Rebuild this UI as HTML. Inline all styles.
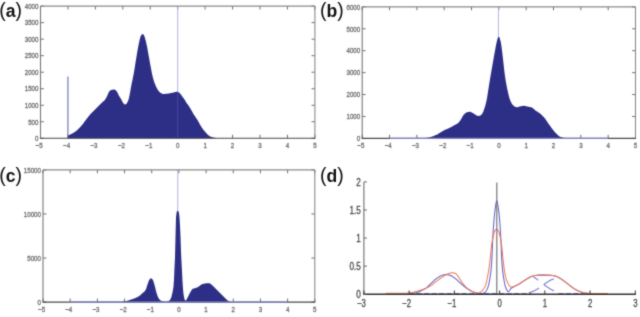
<!DOCTYPE html>
<html><head><meta charset="utf-8"><style>html,body{margin:0;padding:0;background:#fff;width:640px;height:317px;overflow:hidden}svg{display:block}#w{will-change:transform}</style></head>
<body><div id="w">
<svg width="640" height="317" viewBox="0 0 640 317">
<style>.t{font-family:"Liberation Sans",sans-serif;fill:#7a7a7a;stroke:#7a7a7a;stroke-width:0.4}.p{font-family:"Liberation Sans",sans-serif;font-weight:bold;fill:#111}</style>
<filter id="soft" x="0" y="0" width="640" height="317" filterUnits="userSpaceOnUse" color-interpolation-filters="sRGB"><feConvolveMatrix order="3" kernelMatrix="0.025 0.1 0.025 0.1 0.5 0.1 0.025 0.1 0.025" edgeMode="duplicate"/></filter>
<g filter="url(#soft)">
<rect width="640" height="317" fill="#fff"/>
<line x1="40.5" y1="138.3" x2="40.5" y2="134.70000000000002" stroke="#707070" stroke-width="1"/>
<line x1="40.5" y1="6.1" x2="40.5" y2="9.5" stroke="#707070" stroke-width="1"/>
<line x1="67.94" y1="138.3" x2="67.94" y2="134.70000000000002" stroke="#707070" stroke-width="1"/>
<line x1="67.94" y1="6.1" x2="67.94" y2="9.5" stroke="#707070" stroke-width="1"/>
<line x1="95.38" y1="138.3" x2="95.38" y2="134.70000000000002" stroke="#707070" stroke-width="1"/>
<line x1="95.38" y1="6.1" x2="95.38" y2="9.5" stroke="#707070" stroke-width="1"/>
<line x1="122.82" y1="138.3" x2="122.82" y2="134.70000000000002" stroke="#707070" stroke-width="1"/>
<line x1="122.82" y1="6.1" x2="122.82" y2="9.5" stroke="#707070" stroke-width="1"/>
<line x1="150.26" y1="138.3" x2="150.26" y2="134.70000000000002" stroke="#707070" stroke-width="1"/>
<line x1="150.26" y1="6.1" x2="150.26" y2="9.5" stroke="#707070" stroke-width="1"/>
<line x1="177.7" y1="138.3" x2="177.7" y2="134.70000000000002" stroke="#707070" stroke-width="1"/>
<line x1="177.7" y1="6.1" x2="177.7" y2="9.5" stroke="#707070" stroke-width="1"/>
<line x1="205.14" y1="138.3" x2="205.14" y2="134.70000000000002" stroke="#707070" stroke-width="1"/>
<line x1="205.14" y1="6.1" x2="205.14" y2="9.5" stroke="#707070" stroke-width="1"/>
<line x1="232.57999999999998" y1="138.3" x2="232.57999999999998" y2="134.70000000000002" stroke="#707070" stroke-width="1"/>
<line x1="232.57999999999998" y1="6.1" x2="232.57999999999998" y2="9.5" stroke="#707070" stroke-width="1"/>
<line x1="260.02" y1="138.3" x2="260.02" y2="134.70000000000002" stroke="#707070" stroke-width="1"/>
<line x1="260.02" y1="6.1" x2="260.02" y2="9.5" stroke="#707070" stroke-width="1"/>
<line x1="287.46" y1="138.3" x2="287.46" y2="134.70000000000002" stroke="#707070" stroke-width="1"/>
<line x1="287.46" y1="6.1" x2="287.46" y2="9.5" stroke="#707070" stroke-width="1"/>
<line x1="314.9" y1="138.3" x2="314.9" y2="134.70000000000002" stroke="#707070" stroke-width="1"/>
<line x1="314.9" y1="6.1" x2="314.9" y2="9.5" stroke="#707070" stroke-width="1"/>
<line x1="40.5" y1="138.3" x2="43.9" y2="138.3" stroke="#707070" stroke-width="1"/>
<line x1="314.9" y1="138.3" x2="311.5" y2="138.3" stroke="#707070" stroke-width="1"/>
<line x1="40.5" y1="121.775" x2="43.9" y2="121.775" stroke="#707070" stroke-width="1"/>
<line x1="314.9" y1="121.775" x2="311.5" y2="121.775" stroke="#707070" stroke-width="1"/>
<line x1="40.5" y1="105.25" x2="43.9" y2="105.25" stroke="#707070" stroke-width="1"/>
<line x1="314.9" y1="105.25" x2="311.5" y2="105.25" stroke="#707070" stroke-width="1"/>
<line x1="40.5" y1="88.72500000000001" x2="43.9" y2="88.72500000000001" stroke="#707070" stroke-width="1"/>
<line x1="314.9" y1="88.72500000000001" x2="311.5" y2="88.72500000000001" stroke="#707070" stroke-width="1"/>
<line x1="40.5" y1="72.2" x2="43.9" y2="72.2" stroke="#707070" stroke-width="1"/>
<line x1="314.9" y1="72.2" x2="311.5" y2="72.2" stroke="#707070" stroke-width="1"/>
<line x1="40.5" y1="55.675" x2="43.9" y2="55.675" stroke="#707070" stroke-width="1"/>
<line x1="314.9" y1="55.675" x2="311.5" y2="55.675" stroke="#707070" stroke-width="1"/>
<line x1="40.5" y1="39.150000000000006" x2="43.9" y2="39.150000000000006" stroke="#707070" stroke-width="1"/>
<line x1="314.9" y1="39.150000000000006" x2="311.5" y2="39.150000000000006" stroke="#707070" stroke-width="1"/>
<line x1="40.5" y1="22.625" x2="43.9" y2="22.625" stroke="#707070" stroke-width="1"/>
<line x1="314.9" y1="22.625" x2="311.5" y2="22.625" stroke="#707070" stroke-width="1"/>
<line x1="40.5" y1="6.099999999999994" x2="43.9" y2="6.099999999999994" stroke="#707070" stroke-width="1"/>
<line x1="314.9" y1="6.099999999999994" x2="311.5" y2="6.099999999999994" stroke="#707070" stroke-width="1"/>
<text transform="translate(39.10 147.7) scale(0.81 1)" text-anchor="middle" class="t" font-size="7.6">−5</text>
<text transform="translate(66.54 147.7) scale(0.81 1)" text-anchor="middle" class="t" font-size="7.6">−4</text>
<text transform="translate(93.98 147.7) scale(0.81 1)" text-anchor="middle" class="t" font-size="7.6">−3</text>
<text transform="translate(121.42 147.7) scale(0.81 1)" text-anchor="middle" class="t" font-size="7.6">−2</text>
<text transform="translate(148.86 147.7) scale(0.81 1)" text-anchor="middle" class="t" font-size="7.6">−1</text>
<text transform="translate(177.70 147.7) scale(0.81 1)" text-anchor="middle" class="t" font-size="7.6">0</text>
<text transform="translate(205.14 147.7) scale(0.81 1)" text-anchor="middle" class="t" font-size="7.6">1</text>
<text transform="translate(232.58 147.7) scale(0.81 1)" text-anchor="middle" class="t" font-size="7.6">2</text>
<text transform="translate(260.02 147.7) scale(0.81 1)" text-anchor="middle" class="t" font-size="7.6">3</text>
<text transform="translate(287.46 147.7) scale(0.81 1)" text-anchor="middle" class="t" font-size="7.6">4</text>
<text transform="translate(314.90 147.7) scale(0.81 1)" text-anchor="middle" class="t" font-size="7.6">5</text>
<text transform="translate(38.4 141.036) scale(0.81 1)" text-anchor="end" class="t" font-size="7.6">0</text>
<text transform="translate(38.4 124.51100000000001) scale(0.81 1)" text-anchor="end" class="t" font-size="7.6">500</text>
<text transform="translate(38.4 107.986) scale(0.81 1)" text-anchor="end" class="t" font-size="7.6">1000</text>
<text transform="translate(38.4 91.46100000000001) scale(0.81 1)" text-anchor="end" class="t" font-size="7.6">1500</text>
<text transform="translate(38.4 74.936) scale(0.81 1)" text-anchor="end" class="t" font-size="7.6">2000</text>
<text transform="translate(38.4 58.410999999999994) scale(0.81 1)" text-anchor="end" class="t" font-size="7.6">2500</text>
<text transform="translate(38.4 41.886) scale(0.81 1)" text-anchor="end" class="t" font-size="7.6">3000</text>
<text transform="translate(38.4 25.361) scale(0.81 1)" text-anchor="end" class="t" font-size="7.6">3500</text>
<text transform="translate(38.4 8.835999999999995) scale(0.81 1)" text-anchor="end" class="t" font-size="7.6">4000</text>
<line x1="362.2" y1="138.4" x2="362.2" y2="134.8" stroke="#707070" stroke-width="1"/>
<line x1="362.2" y1="6.85" x2="362.2" y2="10.25" stroke="#707070" stroke-width="1"/>
<line x1="389.53" y1="138.4" x2="389.53" y2="134.8" stroke="#707070" stroke-width="1"/>
<line x1="389.53" y1="6.85" x2="389.53" y2="10.25" stroke="#707070" stroke-width="1"/>
<line x1="416.86" y1="138.4" x2="416.86" y2="134.8" stroke="#707070" stroke-width="1"/>
<line x1="416.86" y1="6.85" x2="416.86" y2="10.25" stroke="#707070" stroke-width="1"/>
<line x1="444.19" y1="138.4" x2="444.19" y2="134.8" stroke="#707070" stroke-width="1"/>
<line x1="444.19" y1="6.85" x2="444.19" y2="10.25" stroke="#707070" stroke-width="1"/>
<line x1="471.52" y1="138.4" x2="471.52" y2="134.8" stroke="#707070" stroke-width="1"/>
<line x1="471.52" y1="6.85" x2="471.52" y2="10.25" stroke="#707070" stroke-width="1"/>
<line x1="498.85" y1="138.4" x2="498.85" y2="134.8" stroke="#707070" stroke-width="1"/>
<line x1="498.85" y1="6.85" x2="498.85" y2="10.25" stroke="#707070" stroke-width="1"/>
<line x1="526.1800000000001" y1="138.4" x2="526.1800000000001" y2="134.8" stroke="#707070" stroke-width="1"/>
<line x1="526.1800000000001" y1="6.85" x2="526.1800000000001" y2="10.25" stroke="#707070" stroke-width="1"/>
<line x1="553.51" y1="138.4" x2="553.51" y2="134.8" stroke="#707070" stroke-width="1"/>
<line x1="553.51" y1="6.85" x2="553.51" y2="10.25" stroke="#707070" stroke-width="1"/>
<line x1="580.84" y1="138.4" x2="580.84" y2="134.8" stroke="#707070" stroke-width="1"/>
<line x1="580.84" y1="6.85" x2="580.84" y2="10.25" stroke="#707070" stroke-width="1"/>
<line x1="608.1700000000001" y1="138.4" x2="608.1700000000001" y2="134.8" stroke="#707070" stroke-width="1"/>
<line x1="608.1700000000001" y1="6.85" x2="608.1700000000001" y2="10.25" stroke="#707070" stroke-width="1"/>
<line x1="635.5" y1="138.4" x2="635.5" y2="134.8" stroke="#707070" stroke-width="1"/>
<line x1="635.5" y1="6.85" x2="635.5" y2="10.25" stroke="#707070" stroke-width="1"/>
<line x1="362.2" y1="138.4" x2="365.59999999999997" y2="138.4" stroke="#707070" stroke-width="1"/>
<line x1="635.5" y1="138.4" x2="632.1" y2="138.4" stroke="#707070" stroke-width="1"/>
<line x1="362.2" y1="116.47500000000001" x2="365.59999999999997" y2="116.47500000000001" stroke="#707070" stroke-width="1"/>
<line x1="635.5" y1="116.47500000000001" x2="632.1" y2="116.47500000000001" stroke="#707070" stroke-width="1"/>
<line x1="362.2" y1="94.55000000000001" x2="365.59999999999997" y2="94.55000000000001" stroke="#707070" stroke-width="1"/>
<line x1="635.5" y1="94.55000000000001" x2="632.1" y2="94.55000000000001" stroke="#707070" stroke-width="1"/>
<line x1="362.2" y1="72.625" x2="365.59999999999997" y2="72.625" stroke="#707070" stroke-width="1"/>
<line x1="635.5" y1="72.625" x2="632.1" y2="72.625" stroke="#707070" stroke-width="1"/>
<line x1="362.2" y1="50.7" x2="365.59999999999997" y2="50.7" stroke="#707070" stroke-width="1"/>
<line x1="635.5" y1="50.7" x2="632.1" y2="50.7" stroke="#707070" stroke-width="1"/>
<line x1="362.2" y1="28.775000000000006" x2="365.59999999999997" y2="28.775000000000006" stroke="#707070" stroke-width="1"/>
<line x1="635.5" y1="28.775000000000006" x2="632.1" y2="28.775000000000006" stroke="#707070" stroke-width="1"/>
<line x1="362.2" y1="6.849999999999994" x2="365.59999999999997" y2="6.849999999999994" stroke="#707070" stroke-width="1"/>
<line x1="635.5" y1="6.849999999999994" x2="632.1" y2="6.849999999999994" stroke="#707070" stroke-width="1"/>
<text transform="translate(360.80 147.7) scale(0.81 1)" text-anchor="middle" class="t" font-size="7.6">−5</text>
<text transform="translate(388.13 147.7) scale(0.81 1)" text-anchor="middle" class="t" font-size="7.6">−4</text>
<text transform="translate(415.46 147.7) scale(0.81 1)" text-anchor="middle" class="t" font-size="7.6">−3</text>
<text transform="translate(442.79 147.7) scale(0.81 1)" text-anchor="middle" class="t" font-size="7.6">−2</text>
<text transform="translate(470.12 147.7) scale(0.81 1)" text-anchor="middle" class="t" font-size="7.6">−1</text>
<text transform="translate(498.85 147.7) scale(0.81 1)" text-anchor="middle" class="t" font-size="7.6">0</text>
<text transform="translate(526.18 147.7) scale(0.81 1)" text-anchor="middle" class="t" font-size="7.6">1</text>
<text transform="translate(553.51 147.7) scale(0.81 1)" text-anchor="middle" class="t" font-size="7.6">2</text>
<text transform="translate(580.84 147.7) scale(0.81 1)" text-anchor="middle" class="t" font-size="7.6">3</text>
<text transform="translate(608.17 147.7) scale(0.81 1)" text-anchor="middle" class="t" font-size="7.6">4</text>
<text transform="translate(635.50 147.7) scale(0.81 1)" text-anchor="middle" class="t" font-size="7.6">5</text>
<text transform="translate(360.2 141.136) scale(0.81 1)" text-anchor="end" class="t" font-size="7.6">0</text>
<text transform="translate(360.2 119.21100000000001) scale(0.81 1)" text-anchor="end" class="t" font-size="7.6">1000</text>
<text transform="translate(360.2 97.28600000000002) scale(0.81 1)" text-anchor="end" class="t" font-size="7.6">2000</text>
<text transform="translate(360.2 75.361) scale(0.81 1)" text-anchor="end" class="t" font-size="7.6">3000</text>
<text transform="translate(360.2 53.436) scale(0.81 1)" text-anchor="end" class="t" font-size="7.6">4000</text>
<text transform="translate(360.2 31.511000000000006) scale(0.81 1)" text-anchor="end" class="t" font-size="7.6">5000</text>
<text transform="translate(360.2 9.585999999999995) scale(0.81 1)" text-anchor="end" class="t" font-size="7.6">6000</text>
<line x1="43.0" y1="302.1" x2="43.0" y2="298.5" stroke="#707070" stroke-width="1"/>
<line x1="43.0" y1="169.9" x2="43.0" y2="173.3" stroke="#707070" stroke-width="1"/>
<line x1="70.18" y1="302.1" x2="70.18" y2="298.5" stroke="#707070" stroke-width="1"/>
<line x1="70.18" y1="169.9" x2="70.18" y2="173.3" stroke="#707070" stroke-width="1"/>
<line x1="97.36" y1="302.1" x2="97.36" y2="298.5" stroke="#707070" stroke-width="1"/>
<line x1="97.36" y1="169.9" x2="97.36" y2="173.3" stroke="#707070" stroke-width="1"/>
<line x1="124.53999999999999" y1="302.1" x2="124.53999999999999" y2="298.5" stroke="#707070" stroke-width="1"/>
<line x1="124.53999999999999" y1="169.9" x2="124.53999999999999" y2="173.3" stroke="#707070" stroke-width="1"/>
<line x1="151.72" y1="302.1" x2="151.72" y2="298.5" stroke="#707070" stroke-width="1"/>
<line x1="151.72" y1="169.9" x2="151.72" y2="173.3" stroke="#707070" stroke-width="1"/>
<line x1="178.9" y1="302.1" x2="178.9" y2="298.5" stroke="#707070" stroke-width="1"/>
<line x1="178.9" y1="169.9" x2="178.9" y2="173.3" stroke="#707070" stroke-width="1"/>
<line x1="206.07999999999998" y1="302.1" x2="206.07999999999998" y2="298.5" stroke="#707070" stroke-width="1"/>
<line x1="206.07999999999998" y1="169.9" x2="206.07999999999998" y2="173.3" stroke="#707070" stroke-width="1"/>
<line x1="233.26" y1="302.1" x2="233.26" y2="298.5" stroke="#707070" stroke-width="1"/>
<line x1="233.26" y1="169.9" x2="233.26" y2="173.3" stroke="#707070" stroke-width="1"/>
<line x1="260.44" y1="302.1" x2="260.44" y2="298.5" stroke="#707070" stroke-width="1"/>
<line x1="260.44" y1="169.9" x2="260.44" y2="173.3" stroke="#707070" stroke-width="1"/>
<line x1="287.62" y1="302.1" x2="287.62" y2="298.5" stroke="#707070" stroke-width="1"/>
<line x1="287.62" y1="169.9" x2="287.62" y2="173.3" stroke="#707070" stroke-width="1"/>
<line x1="314.8" y1="302.1" x2="314.8" y2="298.5" stroke="#707070" stroke-width="1"/>
<line x1="314.8" y1="169.9" x2="314.8" y2="173.3" stroke="#707070" stroke-width="1"/>
<line x1="43.0" y1="302.1" x2="46.4" y2="302.1" stroke="#707070" stroke-width="1"/>
<line x1="314.8" y1="302.1" x2="311.40000000000003" y2="302.1" stroke="#707070" stroke-width="1"/>
<line x1="43.0" y1="258.03333333333336" x2="46.4" y2="258.03333333333336" stroke="#707070" stroke-width="1"/>
<line x1="314.8" y1="258.03333333333336" x2="311.40000000000003" y2="258.03333333333336" stroke="#707070" stroke-width="1"/>
<line x1="43.0" y1="213.9666666666667" x2="46.4" y2="213.9666666666667" stroke="#707070" stroke-width="1"/>
<line x1="314.8" y1="213.9666666666667" x2="311.40000000000003" y2="213.9666666666667" stroke="#707070" stroke-width="1"/>
<line x1="43.0" y1="169.9" x2="46.4" y2="169.9" stroke="#707070" stroke-width="1"/>
<line x1="314.8" y1="169.9" x2="311.40000000000003" y2="169.9" stroke="#707070" stroke-width="1"/>
<text transform="translate(41.60 311.5) scale(0.81 1)" text-anchor="middle" class="t" font-size="7.6">−5</text>
<text transform="translate(68.78 311.5) scale(0.81 1)" text-anchor="middle" class="t" font-size="7.6">−4</text>
<text transform="translate(95.96 311.5) scale(0.81 1)" text-anchor="middle" class="t" font-size="7.6">−3</text>
<text transform="translate(123.14 311.5) scale(0.81 1)" text-anchor="middle" class="t" font-size="7.6">−2</text>
<text transform="translate(150.32 311.5) scale(0.81 1)" text-anchor="middle" class="t" font-size="7.6">−1</text>
<text transform="translate(178.90 311.5) scale(0.81 1)" text-anchor="middle" class="t" font-size="7.6">0</text>
<text transform="translate(206.08 311.5) scale(0.81 1)" text-anchor="middle" class="t" font-size="7.6">1</text>
<text transform="translate(233.26 311.5) scale(0.81 1)" text-anchor="middle" class="t" font-size="7.6">2</text>
<text transform="translate(260.44 311.5) scale(0.81 1)" text-anchor="middle" class="t" font-size="7.6">3</text>
<text transform="translate(287.62 311.5) scale(0.81 1)" text-anchor="middle" class="t" font-size="7.6">4</text>
<text transform="translate(314.80 311.5) scale(0.81 1)" text-anchor="middle" class="t" font-size="7.6">5</text>
<text transform="translate(40.9 304.836) scale(0.81 1)" text-anchor="end" class="t" font-size="7.6">0</text>
<text transform="translate(40.9 260.76933333333335) scale(0.81 1)" text-anchor="end" class="t" font-size="7.6">5000</text>
<text transform="translate(40.9 216.7026666666667) scale(0.81 1)" text-anchor="end" class="t" font-size="7.6">10000</text>
<text transform="translate(40.9 172.636) scale(0.81 1)" text-anchor="end" class="t" font-size="7.6">15000</text>
<line x1="177.7" y1="6.1" x2="177.7" y2="138.3" stroke="#b4b4dc" stroke-width="1"/>
<path d="M67.8 138.3L67.8 135.8L68.3 135.58L68.8 135.35L69.3 135.11L69.8 134.86L70.3 134.6L70.8 134.34L71.3 134.07L71.8 133.79L72.3 133.5L72.8 133.21L73.3 132.91L73.8 132.59L74.3 132.27L74.8 131.93L75.3 131.57L75.8 131.2L76.3 130.81L76.8 130.4L77.3 129.98L77.8 129.53L78.3 129.07L78.8 128.59L79.3 128.1L79.8 127.58L80.3 127.03L80.8 126.45L81.3 125.86L81.8 125.26L82.3 124.64L82.8 124.02L83.3 123.39L83.8 122.74L84.3 122.06L84.8 121.37L85.3 120.68L85.8 120L86.3 119.32L86.8 118.67L87.3 118.03L87.8 117.38L88.3 116.74L88.8 116.11L89.3 115.5L89.8 114.9L90.3 114.32L90.8 113.77L91.3 113.25L91.8 112.74L92.3 112.25L92.8 111.76L93.3 111.28L93.8 110.79L94.3 110.3L94.8 109.8L95.3 109.3L95.8 108.8L96.3 108.3L96.8 107.8L97.3 107.3L97.8 106.8L98.3 106.3L98.8 105.8L99.3 105.3L99.8 104.81L100.3 104.31L100.8 103.81L101.3 103.31L101.8 102.8L102.3 102.31L102.8 101.84L103.3 101.39L103.8 100.93L104.3 100.44L104.8 99.91L105.3 99.3L105.8 98.6L106.3 97.69L106.8 96.65L107.3 95.58L107.8 94.38L108.3 93.18L108.8 92.24L109.3 91.47L109.8 90.83L110.3 90.4L110.8 90.13L111.3 89.91L111.8 89.76L112.3 89.69L112.8 89.65L113.3 89.62L113.8 89.6L114.3 89.6L114.8 89.71L115.3 89.95L115.8 90.26L116.3 90.68L116.8 91.39L117.3 92.25L117.8 93.17L118.3 94.28L118.8 95.41L119.3 96.37L119.8 97.14L120.3 97.84L120.8 98.6L121.3 99.53L121.8 100.57L122.3 101.59L122.8 102.44L123.3 103.06L123.8 103.65L124.3 104.16L124.8 104.5L125.3 104.59L125.8 104.36L126.3 103.91L126.8 103.37L127.3 102.58L127.8 101.53L128.3 100.27L128.8 98.65L129.3 96.44L129.8 94L130.3 91.26L130.8 88.29L131.3 85.55L131.8 83.05L132.3 80.67L132.8 78.29L133.3 75.84L133.8 73.2L134.3 70.29L134.8 67.17L135.3 63.95L135.8 60.75L136.3 57.69L136.8 54.77L137.3 51.87L137.8 49.03L138.3 46.32L138.8 43.8L139.3 41.49L139.8 39.27L140.3 37.36L140.8 36.02L141.3 34.95L141.8 34.4L142.3 34.27L142.8 34.21L143.3 34.36L143.8 35.04L144.3 36.01L144.8 37.46L145.3 39.22L145.8 41.1L146.3 43.18L146.8 45.56L147.3 48.12L147.8 50.75L148.3 53.4L148.8 56.18L149.3 59.05L149.8 61.91L150.3 64.67L150.8 67.34L151.3 70.06L151.8 72.69L152.3 75.11L152.8 77.2L153.3 79.01L153.8 80.66L154.3 82.18L154.8 83.56L155.3 84.83L155.8 85.99L156.3 87.09L156.8 88.12L157.3 89.05L157.8 89.89L158.3 90.6L158.8 91.22L159.3 91.78L159.8 92.27L160.3 92.67L160.8 92.99L161.3 93.3L161.8 93.58L162.3 93.81L162.8 93.96L163.3 94L163.8 93.98L164.3 93.94L164.8 93.89L165.3 93.84L165.8 93.79L166.3 93.75L166.8 93.7L167.3 93.65L167.8 93.6L168.3 93.54L168.8 93.47L169.3 93.38L169.8 93.27L170.3 93.15L170.8 93.03L171.3 92.92L171.8 92.82L172.3 92.72L172.8 92.63L173.3 92.54L173.8 92.45L174.3 92.35L174.8 92.24L175.3 92.12L175.8 91.96L176.3 91.81L176.8 91.71L177.3 91.74L177.8 91.92L178.3 92.19L178.8 92.48L179.3 92.86L179.8 93.31L180.3 93.81L180.8 94.4L181.3 95.05L181.8 95.74L182.3 96.44L182.8 97.14L183.3 97.85L183.8 98.58L184.3 99.34L184.8 100.1L185.3 100.87L185.8 101.64L186.3 102.4L186.8 103.15L187.3 103.89L187.8 104.62L188.3 105.35L188.8 106.09L189.3 106.84L189.8 107.61L190.3 108.4L190.8 109.23L191.3 110.09L191.8 110.98L192.3 111.88L192.8 112.78L193.3 113.66L193.8 114.51L194.3 115.32L194.8 116.09L195.3 116.83L195.8 117.55L196.3 118.27L196.8 119L197.3 119.75L197.8 120.54L198.3 121.38L198.8 122.28L199.3 123.21L199.8 124.16L200.3 125.1L200.8 126L201.3 126.84L201.8 127.59L202.3 128.3L202.8 128.98L203.3 129.63L203.8 130.25L204.3 130.85L204.8 131.43L205.3 131.99L205.8 132.54L206.3 133.11L206.8 133.66L207.3 134.19L207.8 134.69L208.3 135.15L208.8 135.54L209.3 135.86L209.8 136.14L210.3 136.4L210.8 136.64L211.3 136.85L211.8 137.05L212.3 137.21L212.8 137.35L213.3 137.47L213.8 137.58L214.3 137.68L214.8 137.78L215.3 137.86L215.8 137.93L216.3 137.97L216.8 138L216.8 138.3Z" fill="#2d2f86"/>
<line x1="67.94" y1="138.3" x2="67.94" y2="76.4" stroke="#6a6ab2" stroke-width="1.1"/>
<line x1="177.7" y1="93" x2="177.7" y2="137.70000000000002" stroke="#4a4aa0" stroke-width="0.9"/>
<path d="M425.7 138.4L425.7 138L426.2 137.92L426.7 137.84L427.2 137.75L427.7 137.66L428.2 137.56L428.7 137.46L429.2 137.35L429.7 137.24L430.2 137.12L430.7 137L431.2 136.86L431.7 136.71L432.2 136.55L432.7 136.37L433.2 136.19L433.7 135.99L434.2 135.78L434.7 135.57L435.2 135.35L435.7 135.12L436.2 134.88L436.7 134.65L437.2 134.4L437.7 134.14L438.2 133.86L438.7 133.56L439.2 133.25L439.7 132.93L440.2 132.61L440.7 132.29L441.2 131.98L441.7 131.67L442.2 131.38L442.7 131.1L443.2 130.83L443.7 130.58L444.2 130.33L444.7 130.08L445.2 129.84L445.7 129.6L446.2 129.36L446.7 129.13L447.2 128.89L447.7 128.64L448.2 128.4L448.7 128.15L449.2 127.9L449.7 127.65L450.2 127.41L450.7 127.16L451.2 126.91L451.7 126.65L452.2 126.4L452.7 126.14L453.2 125.88L453.7 125.62L454.2 125.35L454.7 125.09L455.2 124.83L455.7 124.58L456.2 124.32L456.7 124.03L457.2 123.71L457.7 123.36L458.2 122.94L458.7 122.41L459.2 121.8L459.7 121.13L460.2 120.42L460.7 119.7L461.2 118.91L461.7 118.02L462.2 117.1L462.7 116.2L463.2 115.4L463.7 114.75L464.2 114.17L464.7 113.64L465.2 113.21L465.7 112.88L466.2 112.61L466.7 112.38L467.2 112.22L467.7 112.11L468.2 112.01L468.7 111.93L469.2 111.86L469.7 111.82L470.2 111.8L470.7 111.9L471.2 112.14L471.7 112.44L472.2 112.7L472.7 112.98L473.2 113.28L473.7 113.58L474.2 113.89L474.7 114.23L475.2 114.59L475.7 114.94L476.2 115.24L476.7 115.47L477.2 115.63L477.7 115.78L478.2 115.88L478.7 115.89L479.2 115.83L479.7 115.71L480.2 115.57L480.7 115.29L481.2 114.88L481.7 114.35L482.2 113.73L482.7 112.84L483.2 111.73L483.7 110.5L484.2 109.12L484.7 107.58L485.2 105.88L485.7 104L486.2 101.96L486.7 99.68L487.2 96.9L487.7 93.76L488.2 90.45L488.7 87.14L489.2 84L489.7 81.02L490.2 78.06L490.7 75.12L491.2 72.2L491.7 69.3L492.2 66.43L492.7 63.55L493.2 60.68L493.7 57.84L494.2 55.06L494.7 52.35L495.2 49.7L495.7 46.98L496.2 44.34L496.7 41.95L497.2 40L497.7 38.23L498.2 36.76L498.7 36.32L499.2 36.93L499.7 38.21L500.2 39.91L500.7 41.8L501.2 44.59L501.7 48.28L502.2 52.37L502.7 56.39L503.2 60.72L503.7 65.36L504.2 69.93L504.7 74.06L505.2 77.51L505.7 80.67L506.2 83.61L506.7 86.32L507.2 88.82L507.7 91.1L508.2 93.24L508.7 95.29L509.2 97.18L509.7 98.89L510.2 100.35L510.7 101.55L511.2 102.58L511.7 103.47L512.2 104.22L512.7 104.83L513.2 105.38L513.7 105.86L514.2 106.26L514.7 106.56L515.2 106.76L515.7 106.95L516.2 107.1L516.7 107.18L517.2 107.19L517.7 107.13L518.2 107.01L518.7 106.87L519.2 106.72L519.7 106.6L520.2 106.48L520.7 106.36L521.2 106.22L521.7 106.09L522.2 105.98L522.7 105.89L523.2 105.82L523.7 105.8L524.2 105.82L524.7 105.89L525.2 105.99L525.7 106.11L526.2 106.25L526.7 106.38L527.2 106.51L527.7 106.62L528.2 106.71L528.7 106.8L529.2 106.88L529.7 106.96L530.2 107.05L530.7 107.16L531.2 107.28L531.7 107.43L532.2 107.68L532.7 108.02L533.2 108.43L533.7 108.89L534.2 109.37L534.7 109.84L535.2 110.27L535.7 110.64L536.2 110.99L536.7 111.31L537.2 111.62L537.7 111.93L538.2 112.24L538.7 112.56L539.2 112.89L539.7 113.24L540.2 113.62L540.7 114.03L541.2 114.47L541.7 114.93L542.2 115.42L542.7 115.94L543.2 116.47L543.7 117.03L544.2 117.6L544.7 118.21L545.2 118.87L545.7 119.56L546.2 120.28L546.7 121.01L547.2 121.75L547.7 122.49L548.2 123.2L548.7 123.91L549.2 124.63L549.7 125.36L550.2 126.08L550.7 126.8L551.2 127.5L551.7 128.18L552.2 128.83L552.7 129.47L553.2 130.1L553.7 130.72L554.2 131.33L554.7 131.91L555.2 132.47L555.7 133L556.2 133.5L556.7 133.98L557.2 134.47L557.7 134.94L558.2 135.39L558.7 135.79L559.2 136.15L559.7 136.45L560.2 136.69L560.7 136.89L561.2 137.08L561.7 137.26L562.2 137.41L562.7 137.55L563.2 137.66L563.7 137.76L564.2 137.83L564.7 137.89L565.2 137.95L565.7 138.01L566.2 138.06L566.7 138.11L567.2 138.15L567.7 138.18L568.2 138.19L568.7 138.2L568.7 138.4Z" fill="#2d2f86"/>
<line x1="498.4" y1="6.85" x2="498.4" y2="37" stroke="#b4b4dc" stroke-width="1"/>
<path d="M122.5 302.1L122.5 302L123 301.58L123.5 301.26L124 301.15L124.5 301.08L125 301.04L125.5 301L126 300.96L126.5 300.9L127 300.81L127.5 300.68L128 300.54L128.5 300.38L129 300.22L129.5 300.07L130 299.92L130.5 299.76L131 299.6L131.5 299.44L132 299.27L132.5 299.1L133 298.92L133.5 298.74L134 298.55L134.5 298.37L135 298.19L135.5 298L136 297.8L136.5 297.59L137 297.36L137.5 297.11L138 296.84L138.5 296.53L139 296.18L139.5 295.8L140 295.39L140.5 294.95L141 294.5L141.5 294.04L142 293.58L142.5 293.14L143 292.72L143.5 292.31L144 291.88L144.5 291.39L145 290.81L145.5 290.12L146 289.14L146.5 287.56L147 285.89L147.5 284.44L148 282.95L148.5 281.55L149 280.41L149.5 279.61L150 278.93L150.5 278.41L151 278.2L151.5 278.38L152 278.84L152.5 279.48L153 280.24L153.5 281.5L154 283.14L154.5 284.91L155 286.7L155.5 288.76L156 290.88L156.5 292.77L157 294.27L157.5 295.66L158 296.93L158.5 298.02L159 298.85L159.5 299.42L160 299.91L160.5 300.33L161 300.68L161.5 300.96L162 301.17L162.5 301.33L163 301.47L163.5 301.61L164 301.72L164.5 301.81L165 301.87L165.5 301.9L166 301.88L166.5 301.81L167 301.69L167.5 301.54L168 301.36L168.5 301.16L169 300.84L169.5 300.4L170 299.82L170.5 299.02L171 297.98L171.5 296.56L172 294.44L172.5 292.15L173 289.8L173.5 286.49L174 279.58L174.5 267.3L175 257.42L175.5 237L176 217.61L176.5 213.04L177 211.28L177.5 210.52L178 210.73L178.5 211.59L179 213L179.5 217.64L180 225.46L180.5 237L181 252L181.5 261.88L182 271.34L182.5 281.47L183 288.71L183.5 293.9L184 297.02L184.5 299.33L185 300.27L185.5 300.55L186 300.53L186.5 299.87L187 298.83L187.5 297.8L188 296.84L188.5 295.8L189 294.74L189.5 293.72L190 292.8L190.5 291.93L191 291.04L191.5 290.22L192 289.54L192.5 289.06L193 288.8L193.5 288.61L194 288.46L194.5 288.3L195 288.14L195.5 288L196 287.84L196.5 287.66L197 287.44L197.5 287.2L198 286.93L198.5 286.64L199 286.34L199.5 285.98L200 285.58L200.5 285.18L201 284.83L201.5 284.55L202 284.32L202.5 284.12L203 283.94L203.5 283.79L204 283.68L204.5 283.59L205 283.5L205.5 283.42L206 283.36L206.5 283.32L207 283.3L207.5 283.3L208 283.3L208.5 283.3L209 283.3L209.5 283.3L210 283.38L210.5 283.69L211 284.13L211.5 284.63L212 285.11L212.5 285.55L213 286.01L213.5 286.49L214 286.99L214.5 287.49L215 288L215.5 288.5L216 289.01L216.5 289.53L217 290.06L217.5 290.58L218 291.1L218.5 291.6L219 292.09L219.5 292.57L220 293.05L220.5 293.53L221 294.01L221.5 294.5L222 295.01L222.5 295.53L223 296.06L223.5 296.59L224 297.11L224.5 297.61L225 298.09L225.5 298.57L226 299.06L226.5 299.52L227 299.96L227.5 300.34L228 300.66L228.5 300.95L229 301.21L229.5 301.46L230 301.68L230.5 301.86L231 302L231 302.1Z" fill="#2d2f86"/>
<line x1="177.8" y1="169.9" x2="177.8" y2="211" stroke="#b4b4dc" stroke-width="1"/>
<line x1="40.5" y1="6.1" x2="314.9" y2="6.1" stroke="#8a8a8a" stroke-width="1.1"/>
<line x1="314.9" y1="6.1" x2="314.9" y2="138.3" stroke="#8a8a8a" stroke-width="1.1"/>
<line x1="40.5" y1="6.1" x2="40.5" y2="138.3" stroke="#777" stroke-width="1.1"/>
<line x1="40.0" y1="138.3" x2="315.4" y2="138.3" stroke="#4a4a4a" stroke-width="1.1"/>
<line x1="362.2" y1="6.85" x2="635.5" y2="6.85" stroke="#8a8a8a" stroke-width="1.1"/>
<line x1="635.5" y1="6.85" x2="635.5" y2="138.4" stroke="#8a8a8a" stroke-width="1.1"/>
<line x1="362.2" y1="6.85" x2="362.2" y2="138.4" stroke="#777" stroke-width="1.1"/>
<line x1="361.7" y1="138.4" x2="636.0" y2="138.4" stroke="#4a4a4a" stroke-width="1.1"/>
<line x1="43.0" y1="169.9" x2="314.8" y2="169.9" stroke="#8a8a8a" stroke-width="1.1"/>
<line x1="314.8" y1="169.9" x2="314.8" y2="302.1" stroke="#8a8a8a" stroke-width="1.1"/>
<line x1="43.0" y1="169.9" x2="43.0" y2="302.1" stroke="#777" stroke-width="1.1"/>
<line x1="42.5" y1="302.1" x2="315.3" y2="302.1" stroke="#4a4a4a" stroke-width="1.1"/>
<line x1="389.53" y1="138.4" x2="608.1700000000001" y2="138.4" stroke="#8484cc" stroke-width="1.15"/>
<line x1="70.18" y1="302.1" x2="287.62" y2="302.1" stroke="#8484cc" stroke-width="1.15"/>
<path d="M533.62 277.02L533.74 277.09L533.86 277.16L533.98 277.23L534.1 277.3L534.22 277.37L534.34 277.44L534.46 277.52L534.58 277.59L534.7 277.67L534.82 277.75L534.94 277.82L535.06 277.9L535.18 277.98L535.3 278.06L535.42 278.14L535.55 278.22L535.67 278.3L535.79 278.38L535.91 278.47L536.03 278.55L536.15 278.63L536.27 278.72L536.39 278.8L536.51 278.89L536.63 278.97L536.75 279.06L536.87 279.15L536.99 279.23L537.11 279.32L537.23 279.41L537.35 279.5L537.48 279.59L537.6 279.68L537.72 279.77L537.84 279.86L537.96 279.95L538.08 280.04L538.2 280.13L538.32 280.22" fill="none" stroke="#7878d4" stroke-width="1.1"/>
<path d="M543.75 284.47L544.01 284.67L544.27 284.87L544.53 285.07L544.79 285.27L545.05 285.46L545.31 285.65L545.57 285.84L545.84 286.03L546.1 286.22L546.36 286.41L546.62 286.59L546.88 286.77L547.14 286.95L547.4 287.13L547.66 287.3L547.92 287.48L548.18 287.65L548.45 287.82L548.71 287.98L548.97 288.15L549.23 288.31L549.49 288.46L549.75 288.62L550.01 288.77L550.27 288.92L550.53 289.07L550.79 289.22L551.05 289.36L551.32 289.5L551.58 289.64L551.84 289.77L552.1 289.91L552.36 290.03L552.62 290.16L552.88 290.29L553.14 290.41L553.4 290.53L553.66 290.64L553.93 290.76" fill="none" stroke="#7878d4" stroke-width="1.1"/>
<path d="M528.91 292.67L529.17 292.6L529.43 292.53L529.69 292.46L529.95 292.38L530.2 292.3L530.46 292.22L530.72 292.14L530.98 292.05L531.24 291.97L531.5 291.87L531.76 291.78L532.01 291.68L532.27 291.58L532.53 291.48L532.79 291.38L533.05 291.27L533.31 291.16L533.57 291.05L533.83 290.93L534.08 290.81L534.34 290.69L534.6 290.56L534.86 290.44L535.12 290.31L535.38 290.17L535.64 290.04L535.89 289.9L536.15 289.76L536.41 289.61L536.67 289.46L536.93 289.31L537.19 289.16L537.45 289.01L537.71 288.85L537.96 288.69L538.22 288.52L538.48 288.36L538.74 288.19L539 288.02" fill="none" stroke="#7878d4" stroke-width="1.1"/>
<path d="M543.75 284.63L544.01 284.44L544.27 284.25L544.53 284.06L544.79 283.87L545.05 283.68L545.31 283.49L545.57 283.3L545.84 283.11L546.1 282.93L546.36 282.74L546.62 282.56L546.88 282.38L547.14 282.21L547.4 282.03L547.66 281.86L547.92 281.69L548.18 281.52L548.45 281.36L548.71 281.2L548.97 281.05L549.23 280.9L549.49 280.75L549.75 280.61L550.01 280.47L550.27 280.33L550.53 280.2L550.79 280.08L551.05 279.96L551.32 279.84L551.58 279.73L551.84 279.63L552.1 279.53L552.36 279.43L552.62 279.34L552.88 279.26L553.14 279.19L553.4 279.12L553.66 279.05L553.93 278.99" fill="none" stroke="#7878d4" stroke-width="1.1"/>
<line x1="409.1333333333333" y1="293.59999999999997" x2="531.2633333333333" y2="293.59999999999997" stroke="#7878d4" stroke-width="1.1" stroke-dasharray="5 2.5"/>
<line x1="558.4033333333333" y1="293.59999999999997" x2="583.2816666666666" y2="293.59999999999997" stroke="#7878d4" stroke-width="1.1" stroke-dasharray="5 2.5"/>
<path d="M409 293.6L409.25 293.6L409.5 293.59L409.75 293.59L410 293.58L410.25 293.57L410.5 293.55L410.75 293.54L411 293.52L411.25 293.5L411.5 293.48L411.75 293.45L412 293.43L412.25 293.4L412.5 293.38L412.75 293.35L413 293.32L413.25 293.29L413.5 293.26L413.75 293.23L414 293.2L414.25 293.17L414.5 293.13L414.75 293.08L415 293.03L415.25 292.98L415.5 292.92L415.75 292.86L416 292.79L416.25 292.72L416.5 292.65L416.75 292.57L417 292.5L417.25 292.42L417.5 292.33L417.75 292.25L418 292.17L418.25 292.08L418.5 291.99L418.75 291.9L419 291.79L419.25 291.68L419.5 291.57L419.75 291.45L420 291.32L420.25 291.2L420.5 291.07L420.75 290.94L421 290.81L421.25 290.68L421.5 290.55L421.75 290.42L422 290.3L422.25 290.18L422.5 290.06L422.75 289.94L423 289.82L423.25 289.71L423.5 289.59L423.75 289.47L424 289.34L424.25 289.22L424.5 289.08L424.75 288.95L425 288.81L425.25 288.66L425.5 288.5L425.75 288.33L426 288.15L426.25 287.97L426.5 287.77L426.75 287.56L427 287.34L427.25 287.12L427.5 286.89L427.75 286.66L428 286.42L428.25 286.18L428.5 285.93L428.75 285.68L429 285.44L429.25 285.19L429.5 284.94L429.75 284.7L430 284.46L430.25 284.22L430.5 283.98L430.75 283.75L431 283.52L431.25 283.29L431.5 283.05L431.75 282.81L432 282.57L432.25 282.33L432.5 282.08L432.75 281.83L433 281.59L433.25 281.34L433.5 281.1L433.75 280.86L434 280.62L434.25 280.39L434.5 280.16L434.75 279.93L435 279.71L435.25 279.5L435.5 279.29L435.75 279.09L436 278.89L436.25 278.71L436.5 278.53L436.75 278.35L437 278.18L437.25 278.01L437.5 277.83L437.75 277.66L438 277.5L438.25 277.33L438.5 277.17L438.75 277.01L439 276.85L439.25 276.7L439.5 276.55L439.75 276.41L440 276.27L440.25 276.14L440.5 276.01L440.75 275.89L441 275.78L441.25 275.67L441.5 275.57L441.75 275.48L442 275.4L442.25 275.32L442.5 275.24L442.75 275.16L443 275.08L443.25 275L443.5 274.93L443.75 274.86L444 274.8L444.25 274.74L444.5 274.69L444.75 274.65L445 274.62L445.25 274.61L445.5 274.6L445.75 274.6L446 274.61L446.25 274.63L446.5 274.65L446.75 274.67L447 274.7L447.25 274.73L447.5 274.77L447.75 274.81L448 274.86L448.25 274.9L448.5 274.96L448.75 275.01L449 275.06L449.25 275.12L449.5 275.18L449.75 275.24L450 275.3L450.25 275.37L450.5 275.45L450.75 275.55L451 275.66L451.25 275.78L451.5 275.91L451.75 276.05L452 276.19L452.25 276.35L452.5 276.51L452.75 276.67L453 276.85L453.25 277.02L453.5 277.19L453.75 277.37L454 277.55L454.25 277.73L454.5 277.9L454.75 278.08L455 278.26L455.25 278.46L455.5 278.66L455.75 278.87L456 279.08L456.25 279.3L456.5 279.52L456.75 279.75L457 279.98L457.25 280.21L457.5 280.44L457.75 280.67L458 280.9L458.25 281.13L458.5 281.36L458.75 281.59L459 281.81L459.25 282.03L459.5 282.25L459.75 282.48L460 282.71L460.25 282.93L460.5 283.16L460.75 283.39L461 283.62L461.25 283.85L461.5 284.08L461.75 284.3L462 284.53L462.25 284.75L462.5 284.97L462.75 285.19L463 285.4L463.25 285.61L463.5 285.82L463.75 286.02L464 286.22L464.25 286.42L464.5 286.62L464.75 286.82L465 287.01L465.25 287.21L465.5 287.4L465.75 287.59L466 287.77L466.25 287.96L466.5 288.14L466.75 288.32L467 288.5L467.25 288.67L467.5 288.84L467.75 289.01L468 289.17L468.25 289.33L468.5 289.49L468.75 289.65L469 289.81L469.25 289.97L469.5 290.12L469.75 290.28L470 290.43L470.25 290.58L470.5 290.72L470.75 290.87L471 291.01L471.25 291.14L471.5 291.27L471.75 291.39L472 291.51L472.25 291.62L472.5 291.72L472.75 291.82L473 291.91L473.25 292L473.5 292.09L473.75 292.18L474 292.27L474.25 292.35L474.5 292.44L474.75 292.51L475 292.59L475.25 292.66L475.5 292.73L475.75 292.8L476 292.86L476.25 292.92L476.5 292.97L476.75 293.01L477 293.06L477.25 293.09L477.5 293.13L477.75 293.16L478 293.19L478.25 293.22L478.5 293.25L478.75 293.28L479 293.31L479.25 293.34L479.5 293.36L479.75 293.39L480 293.41L480.25 293.43L480.5 293.45L480.75 293.46L481 293.48L481.25 293.49L481.5 293.49L481.75 293.5L482 293.5L482.25 293.49L482.5 293.46L482.75 293.4L483 293.33L483.25 293.24L483.5 293.14L483.75 293.02L484 292.89L484.25 292.74L484.5 292.59L484.75 292.43L485 292.27L485.25 292.09L485.5 291.86L485.75 291.58L486 291.24L486.25 290.87L486.5 290.44L486.75 289.98L487 289.47L487.25 288.93L487.5 288.36L487.75 287.75L488 287.1L488.25 286.32L488.5 285.42L488.75 284.41L489 283.28L489.25 282.05L489.5 280.72L489.75 279.29L490 277.77L490.25 276.17L490.5 274.42L490.75 272.44L491 270.2L491.25 267.64L491.5 264.73L491.75 261.42L492 256.93L492.25 250.69L492.5 244.36L492.75 239.24L493 234.54L493.25 230.24L493.5 226.5L493.75 223.17L494 220.05L494.25 217.17L494.5 214.56L494.75 212.28L495 210.33L495.25 208.47L495.5 206.62L495.75 204.87L496 203.32L496.25 202.07L496.5 201.2L496.75 200.81L497 200.98L497.25 201.67L497.5 202.78L497.75 204.22L498 205.9L498.25 207.72L498.5 209.59L498.75 211.46L499 213.61L499.25 216.09L499.5 218.87L499.75 221.9L500 225.15L500.25 228.67L500.5 232.76L500.75 237.32L501 242.2L501.25 248.07L501.5 254.55L501.75 259.91L502 263.45L502.25 266.52L502.5 269.22L502.75 271.58L503 273.66L503.25 275.49L503.5 277.14L503.75 278.7L504 280.16L504.25 281.54L504.5 282.82L504.75 283.99L505 285.05L505.25 286L505.5 286.81L505.75 287.5L506 288.12L506.25 288.73L506.5 289.31L506.75 289.86L507 290.35L507.25 290.79L507.5 291.14L507.75 291.4L508 291.56L508.25 291.6L508.5 291.5L508.75 291.3L509 291.02L509.25 290.71L509.5 290.41L509.75 290.13L510 289.81L510.25 289.46L510.5 289.11L510.75 288.78L511 288.49L511.25 288.26L511.5 288.06L511.75 287.89L512 287.72L512.25 287.57L512.5 287.43L512.75 287.3L513 287.17L513.25 287.04L513.5 286.91L513.75 286.78L514 286.65L514.25 286.51L514.5 286.38L514.75 286.26L515 286.13L515.25 286.01L515.5 285.89L515.75 285.77L516 285.65L516.25 285.54L516.5 285.42L516.75 285.3L517 285.18L517.25 285.06L517.5 284.93L517.75 284.8L518 284.67L518.25 284.54L518.5 284.4L518.75 284.26L519 284.11L519.25 283.96L519.5 283.8L519.75 283.65L520 283.49L520.25 283.33L520.5 283.16L520.75 283L521 282.83L521.25 282.66L521.5 282.49L521.75 282.33L522 282.16L522.25 281.99L522.5 281.83L522.75 281.66L523 281.5L523.25 281.34L523.5 281.17L523.75 281.01L524 280.84L524.25 280.67L524.5 280.51L524.75 280.34L525 280.17L525.25 280L525.5 279.84L525.75 279.67L526 279.51L526.25 279.35L526.5 279.2L526.75 279.04L527 278.89L527.25 278.74L527.5 278.6L527.75 278.46L528 278.32L528.25 278.17L528.5 278.03L528.75 277.89L529 277.74L529.25 277.6L529.5 277.46L529.75 277.33L530 277.2L530.25 277.07L530.5 276.95L530.75 276.83L531 276.71L531.25 276.61L531.5 276.51L531.75 276.42L532 276.33L532.25 276.25L532.5 276.18L532.75 276.1L533 276.03L533.25 275.96L533.5 275.89L533.75 275.82L534 275.75L534.25 275.69L534.5 275.63L534.75 275.58L535 275.53L535.25 275.48L535.5 275.43L535.75 275.39L536 275.36L536.25 275.33L536.5 275.31L536.75 275.29L537 275.27L537.25 275.25L537.5 275.24L537.75 275.22L538 275.21L538.25 275.19L538.5 275.18L538.75 275.17L539 275.15L539.25 275.14L539.5 275.13L539.75 275.12L540 275.12L540.25 275.11L540.5 275.11L540.75 275.1L541 275.1L541.25 275.1L541.5 275.1L541.75 275.1L542 275.1L542.25 275.1L542.5 275.1L542.75 275.11L543 275.11L543.25 275.11L543.5 275.11L543.75 275.11L544 275.12L544.25 275.12L544.5 275.12L544.75 275.13L545 275.13L545.25 275.13L545.5 275.14L545.75 275.14L546 275.15L546.25 275.15L546.5 275.16L546.75 275.16L547 275.17L547.25 275.17L547.5 275.18L547.75 275.18L548 275.19L548.25 275.2L548.5 275.2L548.75 275.21L549 275.22L549.25 275.23L549.5 275.25L549.75 275.26L550 275.28L550.25 275.3L550.5 275.32L550.75 275.34L551 275.36L551.25 275.38L551.5 275.41L551.75 275.44L552 275.46L552.25 275.49L552.5 275.52L552.75 275.55L553 275.59L553.25 275.62L553.5 275.66L553.75 275.71L554 275.76L554.25 275.82L554.5 275.88L554.75 275.95L555 276.02L555.25 276.1L555.5 276.18L555.75 276.27L556 276.35L556.25 276.44L556.5 276.54L556.75 276.63L557 276.73L557.25 276.83L557.5 276.93L557.75 277.04L558 277.14L558.25 277.25L558.5 277.37L558.75 277.5L559 277.64L559.25 277.78L559.5 277.93L559.75 278.08L560 278.24L560.25 278.4L560.5 278.56L560.75 278.73L561 278.9L561.25 279.07L561.5 279.24L561.75 279.42L562 279.59L562.25 279.76L562.5 279.93L562.75 280.1L563 280.27L563.25 280.45L563.5 280.63L563.75 280.81L564 280.99L564.25 281.17L564.5 281.36L564.75 281.55L565 281.73L565.25 281.92L565.5 282.12L565.75 282.31L566 282.5L566.25 282.69L566.5 282.89L566.75 283.08L567 283.27L567.25 283.46L567.5 283.65L567.75 283.85L568 284.05L568.25 284.25L568.5 284.45L568.75 284.65L569 284.85L569.25 285.05L569.5 285.25L569.75 285.45L570 285.65L570.25 285.85L570.5 286.05L570.75 286.24L571 286.43L571.25 286.62L571.5 286.8L571.75 286.98L572 287.16L572.25 287.34L572.5 287.52L572.75 287.7L573 287.88L573.25 288.06L573.5 288.23L573.75 288.41L574 288.58L574.25 288.74L574.5 288.91L574.75 289.07L575 289.22L575.25 289.38L575.5 289.52L575.75 289.66L576 289.8L576.25 289.93L576.5 290.06L576.75 290.19L577 290.31L577.25 290.44L577.5 290.56L577.75 290.68L578 290.79L578.25 290.9L578.5 291.01L578.75 291.12L579 291.23L579.25 291.33L579.5 291.43L579.75 291.53L580 291.62L580.25 291.71L580.5 291.8L580.75 291.89L581 291.98L581.25 292.06L581.5 292.15L581.75 292.24L582 292.32L582.25 292.4L582.5 292.49L582.75 292.56L583 292.64L583.25 292.71L583.5 292.78L583.75 292.85L584 292.91L584.25 292.96L584.5 293.01L584.75 293.06L585 293.1L585.25 293.14L585.5 293.17L585.75 293.21L586 293.24L586.25 293.28L586.5 293.31L586.75 293.34L587 293.37L587.25 293.39L587.5 293.42L587.75 293.44L588 293.46L588.25 293.47L588.5 293.49L588.75 293.5L589 293.5" fill="none" stroke="#6464c4" stroke-width="1.05"/>
<path d="M385.8 293.3L386.05 293.3L386.3 293.3L386.55 293.3L386.8 293.3L387.05 293.3L387.3 293.3L387.55 293.3L387.8 293.3L388.05 293.3L388.3 293.3L388.55 293.3L388.8 293.3L389.05 293.3L389.3 293.3L389.55 293.3L389.8 293.3L390.05 293.3L390.3 293.3L390.55 293.3L390.8 293.3L391.05 293.3L391.3 293.3L391.55 293.3L391.8 293.3L392.05 293.3L392.3 293.3L392.55 293.3L392.8 293.3L393.05 293.3L393.3 293.3L393.55 293.3L393.8 293.3L394.05 293.3L394.3 293.3L394.55 293.3L394.8 293.3L395.05 293.3L395.3 293.3L395.55 293.3L395.8 293.3L396.05 293.3L396.3 293.3L396.55 293.3L396.8 293.3L397.05 293.3L397.3 293.3L397.55 293.3L397.8 293.3L398.05 293.3L398.3 293.3L398.55 293.3L398.8 293.3L399.05 293.3L399.3 293.3L399.55 293.3L399.8 293.3L400.05 293.3L400.3 293.3L400.55 293.3L400.8 293.3L401.05 293.3L401.3 293.29L401.55 293.29L401.8 293.29L402.05 293.28L402.3 293.28L402.55 293.28L402.8 293.27L403.05 293.27L403.3 293.26L403.55 293.26L403.8 293.25L404.05 293.24L404.3 293.24L404.55 293.23L404.8 293.22L405.05 293.21L405.3 293.21L405.55 293.2L405.8 293.19L406.05 293.18L406.3 293.17L406.55 293.16L406.8 293.15L407.05 293.14L407.3 293.13L407.55 293.12L407.8 293.11L408.05 293.1L408.3 293.08L408.55 293.06L408.8 293.04L409.05 293.01L409.3 292.98L409.55 292.95L409.8 292.91L410.05 292.87L410.3 292.83L410.55 292.78L410.8 292.73L411.05 292.68L411.3 292.63L411.55 292.58L411.8 292.52L412.05 292.46L412.3 292.4L412.55 292.34L412.8 292.28L413.05 292.22L413.3 292.16L413.55 292.1L413.8 292.04L414.05 291.98L414.3 291.92L414.55 291.86L414.8 291.8L415.05 291.74L415.3 291.68L415.55 291.61L415.8 291.55L416.05 291.48L416.3 291.41L416.55 291.34L416.8 291.27L417.05 291.19L417.3 291.12L417.55 291.04L417.8 290.97L418.05 290.89L418.3 290.81L418.55 290.74L418.8 290.66L419.05 290.58L419.3 290.51L419.55 290.44L419.8 290.36L420.05 290.29L420.3 290.21L420.55 290.14L420.8 290.06L421.05 289.99L421.3 289.91L421.55 289.83L421.8 289.76L422.05 289.68L422.3 289.6L422.55 289.51L422.8 289.43L423.05 289.34L423.3 289.26L423.55 289.17L423.8 289.08L424.05 288.98L424.3 288.88L424.55 288.79L424.8 288.69L425.05 288.59L425.3 288.49L425.55 288.38L425.8 288.28L426.05 288.17L426.3 288.06L426.55 287.95L426.8 287.83L427.05 287.72L427.3 287.6L427.55 287.48L427.8 287.36L428.05 287.24L428.3 287.11L428.55 286.98L428.8 286.85L429.05 286.72L429.3 286.58L429.55 286.45L429.8 286.31L430.05 286.16L430.3 286.02L430.55 285.87L430.8 285.72L431.05 285.55L431.3 285.38L431.55 285.21L431.8 285.03L432.05 284.84L432.3 284.64L432.55 284.45L432.8 284.25L433.05 284.04L433.3 283.84L433.55 283.63L433.8 283.42L434.05 283.21L434.3 283L434.55 282.79L434.8 282.58L435.05 282.37L435.3 282.16L435.55 281.96L435.8 281.76L436.05 281.57L436.3 281.37L436.55 281.19L436.8 281L437.05 280.82L437.3 280.63L437.55 280.44L437.8 280.26L438.05 280.07L438.3 279.89L438.55 279.71L438.8 279.52L439.05 279.34L439.3 279.16L439.55 278.98L439.8 278.8L440.05 278.63L440.3 278.45L440.55 278.28L440.8 278.1L441.05 277.93L441.3 277.76L441.55 277.6L441.8 277.43L442.05 277.27L442.3 277.1L442.55 276.94L442.8 276.77L443.05 276.6L443.3 276.42L443.55 276.25L443.8 276.08L444.05 275.91L444.3 275.74L444.55 275.57L444.8 275.41L445.05 275.25L445.3 275.09L445.55 274.94L445.8 274.79L446.05 274.65L446.3 274.51L446.55 274.39L446.8 274.26L447.05 274.15L447.3 274.05L447.55 273.95L447.8 273.87L448.05 273.78L448.3 273.7L448.55 273.61L448.8 273.53L449.05 273.44L449.3 273.36L449.55 273.29L449.8 273.21L450.05 273.14L450.3 273.08L450.55 273.02L450.8 272.96L451.05 272.92L451.3 272.88L451.55 272.84L451.8 272.82L452.05 272.81L452.3 272.8L452.55 272.81L452.8 272.82L453.05 272.85L453.3 272.88L453.55 272.93L453.8 272.98L454.05 273.04L454.3 273.11L454.55 273.19L454.8 273.27L455.05 273.35L455.3 273.45L455.55 273.54L455.8 273.64L456.05 273.79L456.3 274L456.55 274.24L456.8 274.53L457.05 274.85L457.3 275.19L457.55 275.56L457.8 275.94L458.05 276.32L458.3 276.71L458.55 277.1L458.8 277.47L459.05 277.83L459.3 278.18L459.55 278.54L459.8 278.91L460.05 279.3L460.3 279.69L460.55 280.08L460.8 280.47L461.05 280.87L461.3 281.26L461.55 281.64L461.8 282.02L462.05 282.38L462.3 282.73L462.55 283.07L462.8 283.39L463.05 283.72L463.3 284.04L463.55 284.36L463.8 284.68L464.05 284.99L464.3 285.29L464.55 285.58L464.8 285.87L465.05 286.15L465.3 286.41L465.55 286.67L465.8 286.91L466.05 287.14L466.3 287.36L466.55 287.58L466.8 287.79L467.05 288L467.3 288.21L467.55 288.4L467.8 288.6L468.05 288.79L468.3 288.97L468.55 289.15L468.8 289.33L469.05 289.5L469.3 289.66L469.55 289.83L469.8 289.98L470.05 290.14L470.3 290.28L470.55 290.43L470.8 290.57L471.05 290.71L471.3 290.85L471.55 290.99L471.8 291.13L472.05 291.26L472.3 291.39L472.55 291.52L472.8 291.64L473.05 291.76L473.3 291.87L473.55 291.98L473.8 292.08L474.05 292.18L474.3 292.28L474.55 292.36L474.8 292.44L475.05 292.51L475.3 292.59L475.55 292.66L475.8 292.73L476.05 292.8L476.3 292.87L476.55 292.93L476.8 292.99L477.05 293.05L477.3 293.1L477.55 293.14L477.8 293.17L478.05 293.19L478.3 293.2L478.55 293.19L478.8 293.15L479.05 293.08L479.3 292.98L479.55 292.85L479.8 292.69L480.05 292.52L480.3 292.33L480.55 292.12L480.8 291.9L481.05 291.68L481.3 291.45L481.55 291.23L481.8 291L482.05 290.77L482.3 290.52L482.55 290.26L482.8 289.99L483.05 289.69L483.3 289.37L483.55 289.03L483.8 288.67L484.05 288.28L484.3 287.86L484.55 287.42L484.8 286.94L485.05 286.44L485.3 285.9L485.55 285.27L485.8 284.51L486.05 283.63L486.3 282.64L486.55 281.57L486.8 280.43L487.05 279.24L487.3 278L487.55 276.75L487.8 275.46L488.05 274.09L488.3 272.64L488.55 271.1L488.8 269.48L489.05 267.79L489.3 266.02L489.55 264.18L489.8 262.28L490.05 260.29L490.3 258L490.55 255.41L490.8 252.69L491.05 250L491.3 247.51L491.55 245.37L491.8 243.61L492.05 241.98L492.3 240.49L492.55 239.13L492.8 237.89L493.05 236.79L493.3 235.73L493.55 234.71L493.8 233.75L494.05 232.87L494.3 232.11L494.55 231.47L494.8 231L495.05 230.62L495.3 230.26L495.55 229.93L495.8 229.65L496.05 229.42L496.3 229.27L496.55 229.2L496.8 229.23L497.05 229.35L497.3 229.55L497.55 229.81L497.8 230.12L498.05 230.47L498.3 230.85L498.55 231.26L498.8 231.84L499.05 232.55L499.3 233.39L499.55 234.32L499.8 235.32L500.05 236.36L500.3 237.44L500.55 238.62L500.8 239.93L501.05 241.37L501.3 242.94L501.55 244.64L501.8 246.6L502.05 248.95L502.3 251.57L502.55 254.29L502.8 256.95L503.05 259.4L503.3 261.52L503.55 263.56L503.8 265.58L504.05 267.54L504.3 269.43L504.55 271.21L504.8 272.85L505.05 274.33L505.3 275.62L505.55 276.7L505.8 277.63L506.05 278.47L506.3 279.24L506.55 279.93L506.8 280.58L507.05 281.19L507.3 281.77L507.55 282.34L507.8 282.91L508.05 283.46L508.3 283.98L508.55 284.47L508.8 284.91L509.05 285.29L509.3 285.6L509.55 285.88L509.8 286.15L510.05 286.41L510.3 286.63L510.55 286.82L510.8 286.94L511.05 287L511.3 287L511.55 286.98L511.8 286.94L512.05 286.9L512.3 286.85L512.55 286.79L512.8 286.72L513.05 286.65L513.3 286.58L513.55 286.5L513.8 286.43L514.05 286.36L514.3 286.27L514.55 286.19L514.8 286.09L515.05 285.99L515.3 285.88L515.55 285.77L515.8 285.65L516.05 285.53L516.3 285.4L516.55 285.27L516.8 285.14L517.05 285L517.3 284.86L517.55 284.73L517.8 284.59L518.05 284.45L518.3 284.31L518.55 284.17L518.8 284.03L519.05 283.89L519.3 283.73L519.55 283.58L519.8 283.42L520.05 283.26L520.3 283.1L520.55 282.93L520.8 282.76L521.05 282.6L521.3 282.43L521.55 282.26L521.8 282.09L522.05 281.92L522.3 281.75L522.55 281.59L522.8 281.43L523.05 281.27L523.3 281.11L523.55 280.95L523.8 280.79L524.05 280.63L524.3 280.47L524.55 280.3L524.8 280.14L525.05 279.98L525.3 279.82L525.55 279.67L525.8 279.51L526.05 279.35L526.3 279.2L526.55 279.05L526.8 278.9L527.05 278.75L527.3 278.61L527.55 278.47L527.8 278.33L528.05 278.19L528.3 278.05L528.55 277.9L528.8 277.76L529.05 277.61L529.3 277.47L529.55 277.33L529.8 277.2L530.05 277.06L530.3 276.93L530.55 276.81L530.8 276.69L531.05 276.58L531.3 276.48L531.55 276.38L531.8 276.29L532.05 276.21L532.3 276.14L532.55 276.07L532.8 276.01L533.05 275.94L533.3 275.88L533.55 275.82L533.8 275.76L534.05 275.71L534.3 275.66L534.55 275.6L534.8 275.56L535.05 275.51L535.3 275.47L535.55 275.43L535.8 275.4L536.05 275.36L536.3 275.33L536.55 275.3L536.8 275.28L537.05 275.26L537.3 275.23L537.55 275.21L537.8 275.18L538.05 275.16L538.3 275.14L538.55 275.12L538.8 275.1L539.05 275.08L539.3 275.07L539.55 275.05L539.8 275.04L540.05 275.03L540.3 275.02L540.55 275.01L540.8 275L541.05 275L541.3 275L541.55 275L541.8 275L542.05 275L542.3 275L542.55 275L542.8 275.01L543.05 275.01L543.3 275.01L543.55 275.01L543.8 275.01L544.05 275.02L544.3 275.02L544.55 275.02L544.8 275.03L545.05 275.03L545.3 275.04L545.55 275.04L545.8 275.04L546.05 275.05L546.3 275.05L546.55 275.06L546.8 275.06L547.05 275.07L547.3 275.07L547.55 275.08L547.8 275.09L548.05 275.09L548.3 275.1L548.55 275.1L548.8 275.11L549.05 275.12L549.3 275.13L549.55 275.15L549.8 275.16L550.05 275.18L550.3 275.2L550.55 275.22L550.8 275.24L551.05 275.26L551.3 275.29L551.55 275.31L551.8 275.34L552.05 275.37L552.3 275.4L552.55 275.43L552.8 275.46L553.05 275.49L553.3 275.53L553.55 275.57L553.8 275.62L554.05 275.68L554.3 275.74L554.55 275.81L554.8 275.89L555.05 275.97L555.3 276.05L555.55 276.14L555.8 276.23L556.05 276.33L556.3 276.43L556.55 276.53L556.8 276.63L557.05 276.73L557.3 276.84L557.55 276.95L557.8 277.06L558.05 277.17L558.3 277.28L558.55 277.41L558.8 277.54L559.05 277.68L559.3 277.82L559.55 277.97L559.8 278.12L560.05 278.28L560.3 278.44L560.55 278.6L560.8 278.77L561.05 278.94L561.3 279.11L561.55 279.28L561.8 279.45L562.05 279.63L562.3 279.8L562.55 279.97L562.8 280.14L563.05 280.31L563.3 280.48L563.55 280.66L563.8 280.84L564.05 281.03L564.3 281.21L564.55 281.4L564.8 281.58L565.05 281.77L565.3 281.96L565.55 282.15L565.8 282.35L566.05 282.54L566.3 282.73L566.55 282.92L566.8 283.12L567.05 283.31L567.3 283.5L567.55 283.69L567.8 283.89L568.05 284.09L568.3 284.29L568.55 284.49L568.8 284.69L569.05 284.89L569.3 285.09L569.55 285.29L569.8 285.49L570.05 285.69L570.3 285.89L570.55 286.09L570.8 286.28L571.05 286.47L571.3 286.65L571.55 286.84L571.8 287.02L572.05 287.2L572.3 287.38L572.55 287.56L572.8 287.74L573.05 287.92L573.3 288.09L573.55 288.27L573.8 288.44L574.05 288.61L574.3 288.78L574.55 288.94L574.8 289.1L575.05 289.25L575.3 289.4L575.55 289.55L575.8 289.69L576.05 289.83L576.3 289.96L576.55 290.09L576.8 290.22L577.05 290.34L577.3 290.47L577.55 290.59L577.8 290.71L578.05 290.82L578.3 290.93L578.55 291.05L578.8 291.15L579.05 291.26L579.3 291.36L579.55 291.46L579.8 291.55L580.05 291.64L580.3 291.73L580.55 291.82L580.8 291.9L581.05 291.98L581.3 292.07L581.55 292.15L581.8 292.23L582.05 292.31L582.3 292.38L582.55 292.46L582.8 292.53L583.05 292.6L583.3 292.67L583.55 292.73L583.8 292.79L584.05 292.84L584.3 292.89L584.55 292.93L584.8 292.97L585.05 293.01L585.3 293.04L585.55 293.07L585.8 293.1L586.05 293.13L586.3 293.16L586.55 293.18L586.8 293.21L587.05 293.24L587.3 293.26L587.55 293.28L587.8 293.3L588.05 293.32L588.3 293.34L588.55 293.36L588.8 293.37L589.05 293.38L589.3 293.39L589.55 293.4L589.8 293.4L590.05 293.4L590.3 293.4L590.55 293.4L590.8 293.4L591.05 293.4L591.3 293.4L591.55 293.4L591.8 293.4L592.05 293.4L592.3 293.4L592.55 293.4L592.8 293.4L593.05 293.4L593.3 293.4L593.55 293.4L593.8 293.4L594.05 293.4L594.3 293.4L594.55 293.4L594.8 293.4L595.05 293.4L595.3 293.4L595.55 293.4L595.8 293.4L596.05 293.4L596.3 293.4L596.55 293.4L596.8 293.4L597.05 293.4L597.3 293.4L597.55 293.4L597.8 293.4L598.05 293.4L598.3 293.4L598.55 293.4L598.8 293.4L599.05 293.4L599.3 293.4L599.55 293.4L599.8 293.4L600.05 293.4L600.3 293.4L600.55 293.4L600.8 293.4L601.05 293.4L601.3 293.4L601.55 293.4L601.8 293.4L602.05 293.4L602.3 293.4L602.55 293.4L602.8 293.4L603.05 293.4L603.3 293.4L603.55 293.4L603.8 293.4L604.05 293.4L604.3 293.4L604.55 293.4L604.8 293.4L605.05 293.4L605.3 293.4L605.55 293.4L605.8 293.4L606.05 293.4L606.3 293.4L606.55 293.4L606.8 293.4L607.05 293.4L607.3 293.4L607.55 293.4L607.8 293.4" fill="none" stroke="#ee7a5c" stroke-width="1.05"/>
<line x1="496.8" y1="294.2" x2="496.8" y2="182.5" stroke="#777" stroke-width="1.2"/>
<line x1="363.9" y1="181.9" x2="363.9" y2="294.2" stroke="#7a7a7a" stroke-width="1.2"/>
<line x1="363.29999999999995" y1="294.2" x2="635.9" y2="294.2" stroke="#333" stroke-width="1.4"/>
<line x1="363.9" y1="294.2" x2="363.9" y2="290.4" stroke="#444" stroke-width="1.1"/>
<line x1="409.1333333333333" y1="294.2" x2="409.1333333333333" y2="290.4" stroke="#444" stroke-width="1.1"/>
<line x1="454.3666666666666" y1="294.2" x2="454.3666666666666" y2="290.4" stroke="#444" stroke-width="1.1"/>
<line x1="499.59999999999997" y1="294.2" x2="499.59999999999997" y2="290.4" stroke="#444" stroke-width="1.1"/>
<line x1="544.8333333333333" y1="294.2" x2="544.8333333333333" y2="290.4" stroke="#444" stroke-width="1.1"/>
<line x1="590.0666666666666" y1="294.2" x2="590.0666666666666" y2="290.4" stroke="#444" stroke-width="1.1"/>
<line x1="635.3" y1="294.2" x2="635.3" y2="290.4" stroke="#444" stroke-width="1.1"/>
<line x1="363.9" y1="294.2" x2="366.9" y2="294.2" stroke="#666" stroke-width="1"/>
<line x1="363.9" y1="266.125" x2="366.9" y2="266.125" stroke="#666" stroke-width="1"/>
<line x1="363.9" y1="238.05" x2="366.9" y2="238.05" stroke="#666" stroke-width="1"/>
<line x1="363.9" y1="209.975" x2="366.9" y2="209.975" stroke="#666" stroke-width="1"/>
<line x1="363.9" y1="181.9" x2="366.9" y2="181.9" stroke="#666" stroke-width="1"/>
<text transform="translate(361.30 306.6) scale(0.74 1)" text-anchor="middle" class="t" font-size="10.5" style="fill:#4a4a4a;stroke:#4a4a4a;stroke-width:0.3">−3</text>
<text transform="translate(406.53 306.6) scale(0.74 1)" text-anchor="middle" class="t" font-size="10.5" style="fill:#4a4a4a;stroke:#4a4a4a;stroke-width:0.3">−2</text>
<text transform="translate(451.77 306.6) scale(0.74 1)" text-anchor="middle" class="t" font-size="10.5" style="fill:#4a4a4a;stroke:#4a4a4a;stroke-width:0.3">−1</text>
<text transform="translate(499.60 306.6) scale(0.74 1)" text-anchor="middle" class="t" font-size="10.5" style="fill:#4a4a4a;stroke:#4a4a4a;stroke-width:0.3">0</text>
<text transform="translate(544.83 306.6) scale(0.74 1)" text-anchor="middle" class="t" font-size="10.5" style="fill:#4a4a4a;stroke:#4a4a4a;stroke-width:0.3">1</text>
<text transform="translate(590.07 306.6) scale(0.74 1)" text-anchor="middle" class="t" font-size="10.5" style="fill:#4a4a4a;stroke:#4a4a4a;stroke-width:0.3">2</text>
<text transform="translate(635.30 306.6) scale(0.74 1)" text-anchor="middle" class="t" font-size="10.5" style="fill:#4a4a4a;stroke:#4a4a4a;stroke-width:0.3">3</text>
<text transform="translate(360.8 297.9) scale(0.78 1)" text-anchor="end" class="t" font-size="10.5" style="fill:#4a4a4a;stroke:#4a4a4a;stroke-width:0.3">0</text>
<text transform="translate(360.8 269.825) scale(0.78 1)" text-anchor="end" class="t" font-size="10.5" style="fill:#4a4a4a;stroke:#4a4a4a;stroke-width:0.3">0.5</text>
<text transform="translate(360.8 241.75) scale(0.78 1)" text-anchor="end" class="t" font-size="10.5" style="fill:#4a4a4a;stroke:#4a4a4a;stroke-width:0.3">1</text>
<text transform="translate(360.8 213.67499999999998) scale(0.78 1)" text-anchor="end" class="t" font-size="10.5" style="fill:#4a4a4a;stroke:#4a4a4a;stroke-width:0.3">1.5</text>
<text transform="translate(360.8 185.6) scale(0.78 1)" text-anchor="end" class="t" font-size="10.5" style="fill:#4a4a4a;stroke:#4a4a4a;stroke-width:0.3">2</text>
<text x="-0.7" y="17.3" class="p" font-size="17.6"><tspan font-weight="normal" font-size="19.5">(</tspan>a<tspan font-weight="normal" font-size="19.5">)</tspan></text>
<text x="320.0" y="17.3" class="p" font-size="17.6"><tspan font-weight="normal" font-size="19.5">(</tspan>b<tspan font-weight="normal" font-size="19.5">)</tspan></text>
<text x="-0.7" y="182.0" class="p" font-size="17.6"><tspan font-weight="normal" font-size="19.5">(</tspan>c<tspan font-weight="normal" font-size="19.5">)</tspan></text>
<text x="320.0" y="182.0" class="p" font-size="17.6"><tspan font-weight="normal" font-size="19.5">(</tspan>d<tspan font-weight="normal" font-size="19.5">)</tspan></text>
</g>
</svg>
</div></body></html>
